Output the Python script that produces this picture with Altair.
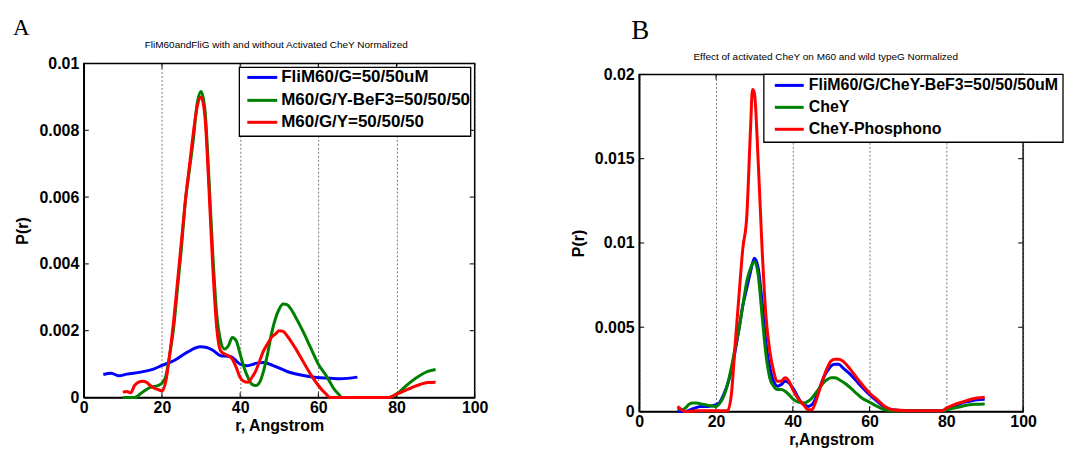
import altair as alt
import pandas as pd

FONT = "Liberation Sans"
SERIF = "Liberation Serif"

# ---------------- Panel A data ----------------
a_blue_r = [5, 7, 9, 11, 14.5, 18, 20, 23, 26.4, 29.8, 31.5, 33.2, 35, 37.5, 40, 41.8, 44.3, 46, 48.6, 52, 56.2, 59.6, 63, 65.6, 70]
a_blue_p = [0.00069, 0.00073, 0.00065, 0.0007, 0.00076, 0.00086, 0.00096, 0.0011, 0.00135, 0.00152, 0.0015, 0.0014,
            0.00125, 0.00123, 0.001, 0.00095, 0.00103, 0.00105, 0.00095, 0.00078, 0.00066, 0.0006, 0.00058, 0.00056, 0.00061]

a_green_r = [10, 13, 15, 17, 19, 20,
             21, 22, 23, 24, 25, 26, 27, 28, 29, 30,
             31, 32, 33, 34, 35, 36, 37, 38, 39, 40,
             41, 42, 43, 44, 45, 46, 47, 48, 49, 50,
             51, 52, 53, 54,
             56, 58, 60, 62, 64, 65.5, 66,
             70, 75, 78,
             80, 82, 84, 86, 88, 90]
a_green_p = [0, 0, 0.00016, 0.0003, 0.00036, 0.00043,
             0.00065, 0.0013, 0.0021, 0.0033, 0.0045, 0.0059, 0.0068, 0.0077, 0.0088, 0.00916,
             0.0086, 0.0066, 0.0043, 0.0025, 0.0017, 0.00145, 0.00155, 0.0018, 0.0017, 0.0013,
             0.0009, 0.0006, 0.0004, 0.00036, 0.00046, 0.0008, 0.0013, 0.0019, 0.00235, 0.00265,
             0.0028, 0.00278, 0.00265, 0.00245,
             0.002, 0.0015, 0.001, 0.00066, 0.00026, 0.00006, 0,
             0, 0, 0,
             0.0001, 0.0003, 0.0005, 0.00066, 0.00078, 0.00084]

a_red_r = [10, 11, 12, 13, 14, 15, 16, 17, 18, 19, 20,
           21, 22, 23, 24, 25, 26, 27, 28, 29, 30,
           31, 32, 33, 34, 35, 36, 37, 38, 39, 40,
           41, 42, 43, 44, 45, 46, 47, 48, 49, 50,
           51, 52,
           54, 56, 58, 60, 62, 63, 66,
           70, 75, 78,
           80, 82, 84, 86, 88, 90]
a_red_p = [0.00016, 0.00018, 0.00014, 0.00036, 0.00046, 0.00049, 0.00046, 0.00036, 0.00028, 0.00024, 0.0002,
           0.0005, 0.0013, 0.0023, 0.0035, 0.0047, 0.0059, 0.0069, 0.0079, 0.0087, 0.009,
           0.0084, 0.0063, 0.0039, 0.0021, 0.0014, 0.0013, 0.00125, 0.00115, 0.0009, 0.0006,
           0.00048, 0.00046, 0.0006, 0.0008, 0.0011, 0.0014, 0.0016, 0.0018, 0.0019, 0.002,
           0.00198, 0.00185,
           0.0015, 0.0011, 0.0007, 0.00036, 0.0001, 0, 0,
           0, 0, 0,
           0.0001, 0.0002, 0.0003, 0.00039, 0.00045, 0.00046]

# ---------------- Panel B data ----------------
b_blue_r = [10, 12, 14, 16, 18, 20,
            21, 22, 23, 24, 25, 26, 27, 28, 29, 30,
            31, 32, 33, 34, 35, 36, 37, 38, 39, 40,
            41, 42, 43, 44, 45, 46, 47, 48, 49, 50,
            51, 52, 53,
            55, 57, 60, 62, 64, 66,
            70, 75, 79,
            80, 82, 84, 86, 88, 90]
b_blue_p = [0, 0, 0.00016, 0.0003, 0.0003, 0.0004,
            0.00055, 0.001, 0.0016, 0.0024, 0.0036, 0.0049, 0.0063, 0.0073, 0.0083, 0.0091,
            0.0085, 0.0065, 0.0041, 0.0026, 0.0018, 0.0015, 0.0016, 0.0018, 0.0017, 0.0014,
            0.001, 0.0006, 0.0004, 0.0003, 0.0004, 0.0008, 0.0014, 0.002, 0.0024, 0.0027,
            0.0028, 0.0028, 0.0026,
            0.0022, 0.0017, 0.001, 0.0006, 0.00025, 0.0001,
            0.00004, 0.00004, 0.00004,
            0.0001, 0.0003, 0.0005, 0.0006, 0.0007, 0.00073]

b_green_r = [10, 11, 12, 13, 14, 15, 16, 18, 20,
             21, 22, 23, 24, 25, 26, 27, 28, 29, 30,
             31, 32, 33, 34, 35, 36, 37, 38, 39, 40,
             41, 42, 43, 44, 45, 46, 47, 48, 49, 50,
             51, 52,
             54, 56, 58, 60, 62, 64, 66,
             70, 75, 79,
             80, 82, 84, 86, 88, 90]
b_green_p = [0.0002, 0.0001, 0.0002, 0.00043, 0.0005, 0.0005, 0.00045, 0.00036, 0.0003,
             0.0005, 0.0009, 0.0016, 0.0026, 0.0038, 0.0049, 0.0063, 0.0077, 0.0085, 0.0089,
             0.0081, 0.0057, 0.0034, 0.002, 0.0015, 0.0013, 0.0013, 0.0012, 0.001, 0.00075,
             0.0006, 0.00053, 0.0005, 0.0006, 0.0008, 0.0011, 0.0014, 0.0017, 0.0019, 0.002,
             0.002, 0.0019,
             0.0016, 0.0012, 0.0008, 0.00055, 0.0003, 0.0001, 0.00004,
             0.00004, 0.00004, 0.00004,
             0.0001, 0.0002, 0.0003, 0.0004, 0.00043, 0.00045]

b_red_r = [10, 11, 12, 15, 18, 21, 23,
           24, 25, 26, 27, 28, 29, 29.5, 30,
           31, 32, 33, 34, 35, 36, 37, 38, 39, 40,
           41, 42, 43, 44, 45, 46, 47, 48, 49, 50,
           51, 52, 53,
           55, 57, 60, 62, 64, 66,
           70, 75, 79,
           80, 82, 84, 86, 88, 90]
b_red_p = [0.0003, 0.0001, 0, 0.00004, 0.00004, 0.00004, 0.00004,
           0.001, 0.004, 0.0069, 0.0097, 0.0115, 0.0168, 0.0191, 0.0189,
           0.0148, 0.0097, 0.0057, 0.0036, 0.0024, 0.0018, 0.0018, 0.002, 0.0018, 0.0013,
           0.0009, 0.0006, 0.00034, 0.0001, 0.0001, 0.0006, 0.0013, 0.002, 0.0026, 0.003,
           0.0031, 0.0031, 0.003,
           0.0025, 0.0019, 0.0011, 0.0007, 0.0003, 0.0001,
           0.00005, 0.00005, 0.00005,
           0.0002, 0.0004, 0.00055, 0.0007, 0.0008, 0.00085]

# ---------------- labels / ticks ----------------
x_ticks = [0, 20, 40, 60, 80, 100]
a_y_ticks = [0, 0.002, 0.004, 0.006, 0.008, 0.01]
b_y_ticks = [0, 0.005, 0.01, 0.015, 0.02]

a_labels = ["FliM60/G=50/50uM", "M60/G/Y-BeF3=50/50/50", "M60/G/Y=50/50/50"]
b_labels = ["FliM60/G/CheY-BeF3=50/50/50uM", "CheY", "CheY-Phosphono"]
colors = ["#0000FF", "#008000", "#FF0000"]

a_title = "FliM60andFliG with and without Activated CheY Normalized"
b_title = "Effect of activated CheY on M60 and wild typeG Normalized"

ONE = pd.DataFrame({"a": [0]})


def panel(series, ymax, yticks, W, H, xtitle, title, letter, letter_pos, letter_size,
          labels, legend_font, legend_box, legend_line, legend_text_x, legend_rows, bounds_box):
    xs = alt.Scale(domain=[0, 100], nice=False, zero=False)
    ys = alt.Scale(domain=[0, ymax], nice=False, zero=False)
    xaxis = alt.Axis(values=x_ticks, title=xtitle, labelFont=FONT, labelFontSize=16,
                     labelFontWeight="bold", labelColor="black", titleFont=FONT,
                     titleFontSize=16, titleFontWeight="bold", titleColor="black",
                     ticks=False, grid=True, gridDash=[2, 2], gridColor="#555555",
                     gridWidth=0.8, domainColor="black", domainWidth=1.5,
                     labelPadding=2, titlePadding=2, labelFlush=False)
    yaxis = alt.Axis(values=yticks, format="~g", title="P(r)", labelFont=FONT,
                     labelFontSize=16, labelFontWeight="bold", labelColor="black",
                     titleFont=FONT, titleFontSize=16, titleFontWeight="bold",
                     titleColor="black", ticks=False, grid=False, domainColor="black",
                     domainWidth=1.5, labelPadding=5, titlePadding=8, labelFlush=False)

    layers = []
    # invisible bounds marker (controls panel placement)
    bx1, by1, bx2 = bounds_box
    layers.append(alt.Chart(ONE).mark_rule(opacity=0, strokeWidth=1).encode(
        x=alt.value(bx1), x2=alt.value(bx2), y=alt.value(by1), y2=alt.value(by1)))

    tdf_x = pd.DataFrame({"t": x_ticks})
    tdf_y = pd.DataFrame({"t": yticks})
    # inward ticks on all four sides
    layers.append(alt.Chart(tdf_x).mark_rule(color="black", strokeWidth=1).encode(
        x=alt.X("t:Q", scale=xs, axis=xaxis), y=alt.value(H), y2=alt.value(H - 5)))
    layers.append(alt.Chart(tdf_x).mark_rule(color="black", strokeWidth=1).encode(
        x=alt.X("t:Q", scale=xs, axis=xaxis), y=alt.value(0), y2=alt.value(5)))
    layers.append(alt.Chart(tdf_y).mark_rule(color="black", strokeWidth=1).encode(
        y=alt.Y("t:Q", scale=ys, axis=yaxis), x=alt.value(0), x2=alt.value(5)))
    layers.append(alt.Chart(tdf_y).mark_rule(color="black", strokeWidth=1).encode(
        y=alt.Y("t:Q", scale=ys, axis=yaxis), x=alt.value(W), x2=alt.value(W - 5)))

    for (r, p), c in zip(series, colors):
        df = pd.DataFrame({"r": r, "p": p})
        layers.append(alt.Chart(df).mark_line(color=c, strokeWidth=3, interpolate="monotone").encode(
            x=alt.X("r:Q", scale=xs, axis=xaxis), y=alt.Y("p:Q", scale=ys, axis=yaxis)))

    # legend
    lx1, ly1, lx2, ly2 = legend_box
    layers.append(alt.Chart(ONE).mark_rect(fill="white", stroke="black", strokeWidth=1.3).encode(
        x=alt.value(lx1), x2=alt.value(lx2), y=alt.value(ly1), y2=alt.value(ly2)))
    for lab, c, ry in zip(labels, colors, legend_rows):
        layers.append(alt.Chart(ONE).mark_rule(color=c, strokeWidth=3).encode(
            x=alt.value(legend_line[0]), x2=alt.value(legend_line[1]),
            y=alt.value(ry), y2=alt.value(ry)))
        layers.append(alt.Chart(ONE).mark_text(text=lab, font=FONT, fontSize=legend_font,
                                               fontWeight="bold", align="left",
                                               baseline="middle", color="black").encode(
            x=alt.value(legend_text_x), y=alt.value(ry)))

    # title and panel letter
    layers.append(alt.Chart(ONE).mark_text(text=title[0], font=FONT, fontSize=10, color="black",
                                           align="center", baseline="middle").encode(
        x=alt.value(title[1]), y=alt.value(title[2])))
    layers.append(alt.Chart(ONE).mark_text(text=letter, font=SERIF, fontSize=letter_size,
                                           color="black", align="left",
                                           baseline="alphabetic").encode(
        x=alt.value(letter_pos[0]), y=alt.value(letter_pos[1])))

    return alt.layer(*layers).properties(width=W, height=H)


chart_a = panel([(a_blue_r, a_blue_p), (a_green_r, a_green_p), (a_red_r, a_red_p)],
                0.01, a_y_ticks, 392, 335, "r, Angstrom",
                (a_title, 193, -19), "A", (-71, -29), 23,
                a_labels, 17, (156, 4, 388, 73), (164, 194), 198, (14, 37, 59),
                (-75, -54, 457))

chart_b = panel([(b_blue_r, b_blue_p), (b_green_r, b_green_p), (b_red_r, b_red_p)],
                0.02, b_y_ticks, 385, 338, "r,Angstrom",
                (b_title, 187, -17), "B", (-8, -36), 27,
                b_labels, 16, (125, 0, 425, 68), (136, 165), 170, (11, 33, 55),
                (-78, -65, 0))

# small invisible spacer that drops panel B 11px below panel A
spacer = alt.Chart(ONE).mark_rule(opacity=0).encode(
    x=alt.value(0), y=alt.value(0)
).properties(width=385, height=11, view=alt.ViewBackground(strokeOpacity=0))

right_col = alt.vconcat(spacer, chart_b, spacing=0, bounds="flush")

chart = alt.hconcat(chart_a, right_col, spacing=20).properties(
    padding=0
).configure_view(stroke="black", strokeWidth=1.5)

chart.save("out.html", embed_options={"renderer": "svg", "actions": False})
